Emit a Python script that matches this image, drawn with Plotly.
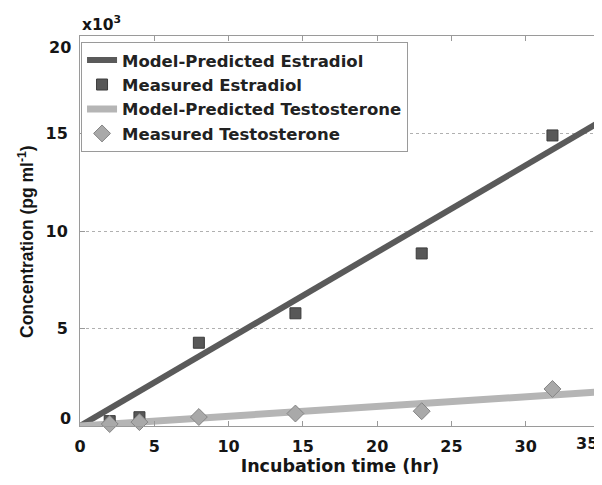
import plotly.graph_objects as go

# Data (concentration in thousands of pg/ml, i.e. x10^3)
time_measured = [2, 4, 8, 14.5, 23, 31.8]
estradiol_measured = [0.25, 0.45, 4.27, 5.78, 8.85, 14.9]
testosterone_measured = [0.1, 0.2, 0.46, 0.64, 0.76, 1.9]

model_time = [0, 35]
model_estradiol = [0, 15.6]
model_testosterone = [0, 1.75]

x_ticks = [0, 5, 10, 15, 20, 25, 30]
y_ticks = [5, 10, 15]

FONT = "DejaVu Sans, sans-serif"
FONT2 = "Liberation Sans, Arial, sans-serif"
TXT = "#151515"

fig = go.Figure()
fig.add_trace(go.Scatter(
    x=model_time, y=model_estradiol, mode="lines",
    name="<b>Model-Predicted Estradiol</b>", legendrank=1,
    line=dict(color="#5a5a5a", width=6)))
fig.add_trace(go.Scatter(
    x=model_time, y=model_testosterone, mode="lines",
    name="<b>Model-Predicted Testosterone</b>", legendrank=3,
    line=dict(color="#b5b5b5", width=7)))
fig.add_trace(go.Scatter(
    x=time_measured, y=estradiol_measured, mode="markers",
    name="<b>Measured Estradiol</b>", legendrank=2, cliponaxis=False,
    marker=dict(symbol="square", size=11, color="#585858",
                line=dict(color="#3c3c3c", width=1))))
fig.add_trace(go.Scatter(
    x=time_measured, y=testosterone_measured, mode="markers",
    name="<b>Measured Testosterone</b>", legendrank=4, cliponaxis=False,
    marker=dict(symbol="diamond", size=13, color="#a9a9a9",
                line=dict(color="#858585", width=1))))

tickfont = dict(family=FONT, size=16, color=TXT, weight="bold")

# the page body has an 8px default margin, so the figure is 594x477
fig.update_layout(
    width=594, height=477,
    margin=dict(l=72, r=2, t=28, b=59, autoexpand=False),
    paper_bgcolor="white", plot_bgcolor="white",
    font=dict(family=FONT, color=TXT),
    showlegend=True,
    legend=dict(
        x=0.002, y=0.985, xanchor="left", yanchor="top",
        bgcolor="white", bordercolor="#9a9a9a", borderwidth=1,
        font=dict(family=FONT, size=16.5, color="#222222", weight="bold"),
        itemwidth=30, tracegroupgap=0),
    xaxis=dict(
        range=[0, 35], tickvals=x_ticks, ticks="inside", ticklen=5,
        tickcolor="#999999", showline=True, linecolor="#9a9a9a", linewidth=1,
        mirror="ticks", showgrid=False, zeroline=False, automargin=False,
        tickfont=tickfont, ticklabelstandoff=6,
        title=dict(text="<b>Incubation time (hr)</b>", standoff=0,
                   font=dict(family=FONT, size=17.5, color=TXT, weight="bold"))),
    yaxis=dict(
        range=[0, 20], tickvals=y_ticks, ticks="inside", ticklen=5,
        tickcolor="#999999", showline=True, linecolor="#9a9a9a", linewidth=1,
        mirror="ticks", showgrid=True, gridcolor="#b0b0b0", griddash="dot",
        gridwidth=1, zeroline=False, automargin=False,
        tickfont=tickfont, ticklabelstandoff=8),
)

fig.add_annotation(text="<b>Concentration (pg ml<sup>-1</sup>)</b>",
                   xref="paper", yref="paper", x=0, y=0.5, xshift=-54, yshift=-11,
                   xanchor="center", yanchor="middle", textangle=-90,
                   showarrow=False,
                   font=dict(family=FONT2, size=17.5, color=TXT, weight="bold"))
fig.add_annotation(text="<b>x10<sup>3</sup></b>", xref="paper", yref="paper",
                   x=0, y=1, xanchor="left", yanchor="bottom", showarrow=False,
                   font=dict(family=FONT, size=15.5, color=TXT, weight="bold"))
fig.add_annotation(text="<b>35</b>", xref="x", yref="paper", x=35, y=0,
                   xanchor="right", yanchor="top", yshift=-6, showarrow=False,
                   font=tickfont)
fig.add_annotation(text="<b>20</b>", xref="paper", yref="y", x=0, y=20,
                   xanchor="right", yanchor="top", xshift=-7, showarrow=False,
                   font=tickfont)
fig.add_annotation(text="<b>0</b>", xref="paper", yref="y", x=0, y=0,
                   xanchor="right", yanchor="bottom", xshift=-7, yshift=-4,
                   showarrow=False, font=tickfont)

fig.write_html("out.html")
